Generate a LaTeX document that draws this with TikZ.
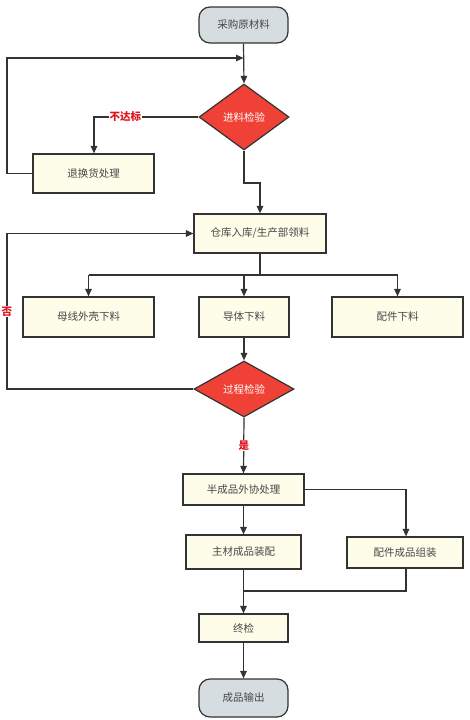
\documentclass[tikz,border=0pt]{standalone}
\usepackage{fontspec}
\setmainfont{Noto Sans CJK SC}
\usetikzlibrary{shapes.geometric,arrows.meta}
\definecolor{termfill}{HTML}{D6DDE0}
\definecolor{boxfill}{HTML}{FDFDEA}
\definecolor{dfill}{HTML}{EF4136}
\definecolor{lncol}{HTML}{333333}
\definecolor{lblred}{HTML}{E0141E}
\begin{document}
\begin{tikzpicture}[x=1pt,y=-1pt,
  every node/.style={font=\fontsize{10.5}{12}\selectfont, text=black!72},
  term/.style={draw=lncol, line width=1.2pt, fill=termfill, rounded corners=11pt, minimum width=89pt, minimum height=36pt, inner sep=0pt},
  proc/.style={draw=lncol, line width=1.2pt, fill=boxfill, inner sep=0pt},
  dec/.style={draw=lncol, line width=1.2pt, fill=dfill, diamond, aspect=1.4, inner sep=0pt, text=white},
  conn/.style={draw=lncol, line width=1.2pt, -{Triangle[length=7.5pt,width=6.5pt]}},
  line/.style={draw=lncol, line width=1.2pt},
  lbl/.style={fill=white, text=lblred, font=\bfseries\fontsize{10.5}{12}\selectfont, inner sep=1pt}]
\useasboundingbox (0,0) rectangle (470,720);
\fill[white] (0,0) rectangle (470,720);

\node[term] (start) at (243.5,25) {采购原材料};
\node[dec, minimum width=90pt, minimum height=66pt] (d1) at (244,117) {进料检验};
\node[proc, minimum width=121pt, minimum height=39pt] (ret) at (93.5,173.5) {退换货处理};
\node[proc, minimum width=132pt, minimum height=39pt] (wh) at (260,233.5) {仓库入库/生产部领料};
\node[proc, minimum width=131pt, minimum height=40pt] (b1) at (88.5,317) {母线外壳下料};
\node[proc, minimum width=90pt, minimum height=40pt] (b2) at (244,317) {导体下料};
\node[proc, minimum width=131pt, minimum height=40pt] (b3) at (397.5,317) {配件下料};
\node[dec, minimum width=100pt, minimum height=56pt, aspect=1.8] (d2) at (244,389) {过程检验};
\node[proc, minimum width=121pt, minimum height=31pt] (semi) at (243.5,489.5) {半成品外协处理};
\node[proc, minimum width=115pt, minimum height=34pt] (main) at (243.5,552) {主材成品装配};
\node[proc, minimum width=116pt, minimum height=31pt] (acc) at (405,552.5) {配件成品组装};
\node[proc, minimum width=89pt, minimum height=28pt] (fin) at (243.5,628) {终检};
\node[term, minimum height=38pt] (out) at (243.5,698) {成品输出};

\coordinate (j1) at (243.5,58);
\coordinate (j2) at (243.5,591);

% top
\draw[conn] (start.south) -- (d1.north);
\draw[conn] (ret.west) -- (7,173.5) -- (7,58) -- (j1);
\draw[conn] (d1.west) -- (94,117) node[lbl, pos=0.7] {不达标} -- (ret.north -| 94,0);
\draw[conn] (d1.south) -- (244,183) -- (260,183) -- (wh.north);

% branches
\draw[line] (wh.south) -- (260,275);
\draw[line] (88.5,275) -- (397.5,275);
\draw[conn] (88.5,275) -- (b1.north);
\draw[conn] (244,275) -- (b2.north);
\draw[conn] (397.5,275) -- (b3.north);

\draw[conn] (b2.south) -- (d2.north);
\draw[conn] (d2.west) -- (7,389) -- (7,233.5) node[lbl, pos=0.5] {否} -- (wh.west);
\draw[conn] (d2.south) -- (semi.north) node[lbl, pos=0.5] {是};

% bottom
\draw[conn] (semi.south) -- (main.north);
\draw[conn] (semi.east) -- (406,489.5) -- (acc.north -| 406,0);
\draw[line] (acc.south -| 406,0) -- (406,591) -- (j2);
\draw[conn] (main.south) -- (fin.north);
\draw[conn] (fin.south) -- (out.north);
\end{tikzpicture}
\end{document}
